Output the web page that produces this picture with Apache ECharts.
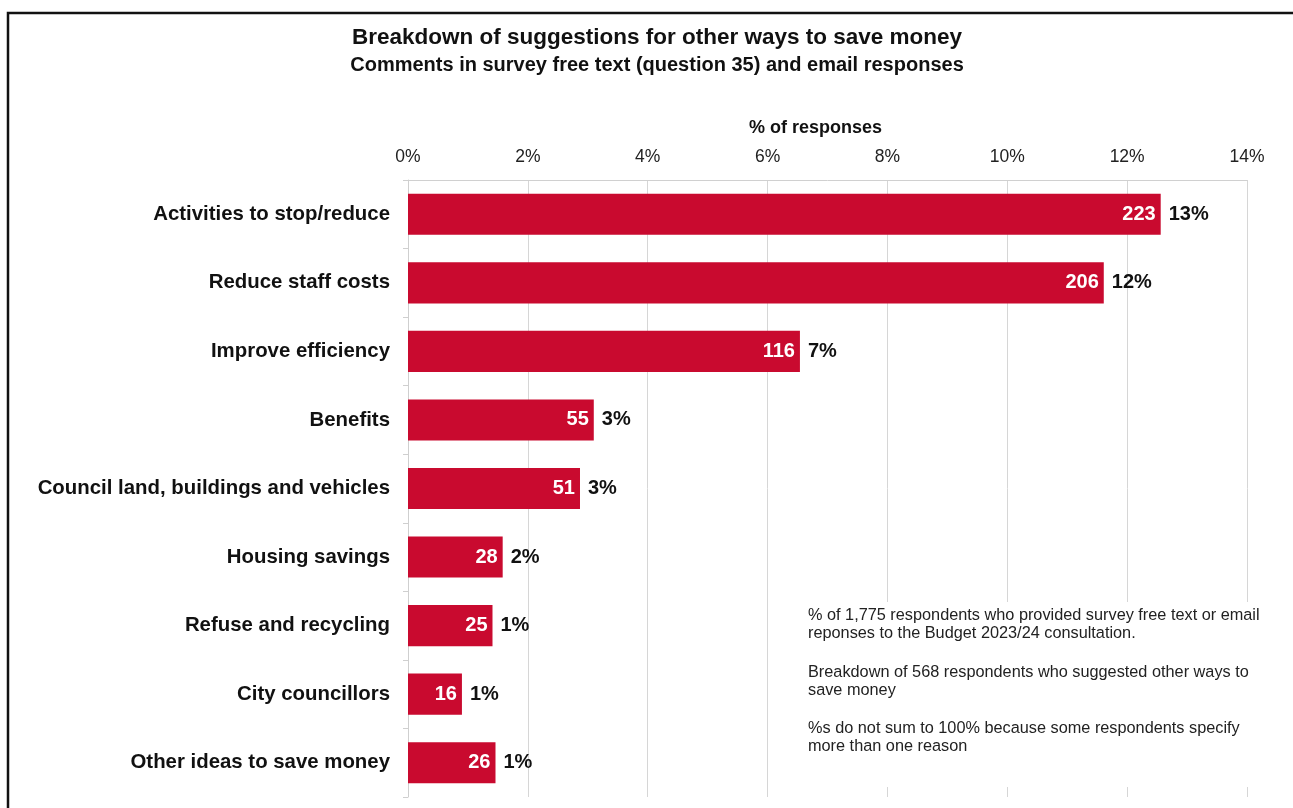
<!DOCTYPE html>
<html>
<head>
<meta charset="utf-8">
<script src="https://cdn.jsdelivr.net/npm/echarts@6/dist/echarts.min.js"></script>
<style>
html,body{margin:0;padding:0;background:#fff;}
#chart{width:1293px;height:808px;}
</style>
</head>
<body>
<div id="chart"></div>
<script>
var categories = ['Activities to stop/reduce','Reduce staff costs','Improve efficiency','Benefits','Council land, buildings and vehicles','Housing savings','Refuse and recycling','City councillors','Other ideas to save money'];
var counts = [223, 206, 116, 55, 51, 28, 25, 16, 26];
var percents = [12.56, 11.61, 6.54, 3.10, 2.87, 1.58, 1.41, 0.90, 1.46];
var xTicks = [0, 2, 4, 6, 8, 10, 12, 14];
var notes = [
  '% of 1,775 respondents who provided survey free text or email',
  'reponses to the Budget 2023/24 consultation.',
  'Breakdown of 568 respondents who suggested other ways to',
  'save money',
  '%s do not sum to 100% because some respondents specify',
  'more than one reason'
];

var FONT = '"Liberation Sans", Arial, Helvetica, sans-serif';
var chart = echarts.init(document.getElementById('chart'), null, {renderer:'canvas'});
var noteY = [616, 634, 673, 691, 729, 747];
var graphics = [{
  type:'rect', shape:{x:8, y:13, width:1400, height:900},
  style:{fill:'none', stroke:'#111', lineWidth:2.5}, silent:true, z:0
},{
  type:'text', silent:true,
  style:{x:657, y:38, text:'Breakdown of suggestions for other ways to save money', fill:'#111',
    font:'bold 22.5px '+FONT, textAlign:'center', textVerticalAlign:'middle'}
},{
  type:'text', silent:true,
  style:{x:657, y:65, text:'Comments in survey free text (question 35) and email responses', fill:'#111',
    font:'bold 20px '+FONT, textAlign:'center', textVerticalAlign:'middle'}
},{
  type:'rect', shape:{x:795, y:602, width:475, height:185},
  style:{fill:'#fff', stroke:'none'}, silent:true, z:5
}];
notes.forEach(function(t, i){
  graphics.push({type:'text', silent:true, z:6,
    style:{x:808, y:noteY[i], text:t, fill:'#222', font:'16.3px '+FONT, textVerticalAlign:'middle'}});
});

chart.setOption({
  backgroundColor:'#fff',
  textStyle:{fontFamily:FONT},
  graphic: graphics,
  grid:{left:408, right:46, top:180, bottom:11, containLabel:false},
  xAxis:{
    type:'value', position:'top', min:xTicks[0], max:xTicks[xTicks.length-1], interval:2,
    name:'% of responses', nameLocation:'middle', nameGap:43,
    nameTextStyle:{fontSize:18, fontWeight:'bold', color:'#111', fontFamily:FONT, padding:[0,24,0,0]},
    axisLine:{show:true, lineStyle:{color:'#d0d0d0', width:1}},
    axisTick:{show:false},
    axisLabel:{formatter:'{value}%', fontSize:17.5, color:'#222', margin:14, fontFamily:FONT},
    splitLine:{show:true, lineStyle:{color:'#d6d6d6', width:1}}
  },
  yAxis:{
    type:'category', data:categories, inverse:true,
    axisLine:{show:true, lineStyle:{color:'#cfcfcf'}},
    axisTick:{show:true, length:5, lineStyle:{color:'#cfcfcf'}},
    axisLabel:{fontSize:20.4, fontWeight:'bold', color:'#111', margin:18, fontFamily:FONT}
  },
  series:[{
    type:'bar', data:percents, barCategoryGap:'40%',
    itemStyle:{color:'#C90A2F'},
    silent:true, animation:false,
    label:{show:true, position:'insideRight', distance:5, color:'#fff', fontSize:20, fontWeight:'bold', fontFamily:FONT,
      formatter:function(p){return counts[p.dataIndex];}}
  },{
    type:'bar', data:percents, barGap:'-100%', barCategoryGap:'40%',
    itemStyle:{color:'rgba(0,0,0,0)'},
    silent:true, animation:false,
    label:{show:true, position:'right', distance:8, color:'#111', fontSize:20, fontWeight:'bold', fontFamily:FONT,
      formatter:function(p){return Math.round(p.value)+'%';}}
  }]
});
</script>
</body>
</html>
